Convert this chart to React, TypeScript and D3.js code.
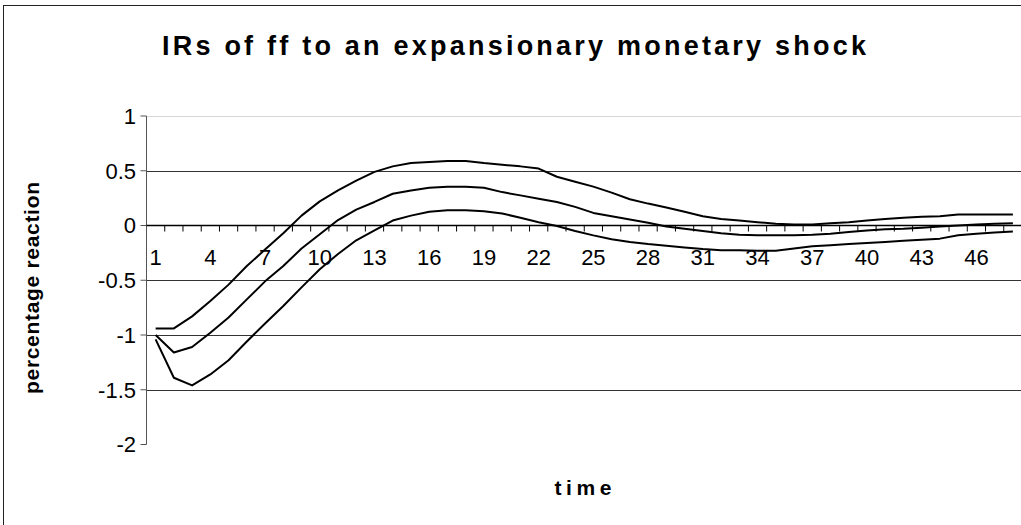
import { useMemo } from 'react';
import * as d3 from 'd3';

const periods = d3.range(1, 49);
const upper = [-0.94, -0.94, -0.83, -0.69, -0.54, -0.37, -0.22, -0.07, 0.09, 0.22, 0.32, 0.41, 0.49, 0.54, 0.57, 0.58, 0.59, 0.59, 0.57, 0.555, 0.54, 0.52, 0.445, 0.4, 0.355, 0.3, 0.24, 0.2, 0.165, 0.125, 0.085, 0.06, 0.045, 0.03, 0.015, 0.01, 0.01, 0.02, 0.03, 0.045, 0.06, 0.07, 0.08, 0.085, 0.1, 0.1, 0.1, 0.1];
const irf = [-1.0, -1.16, -1.11, -0.98, -0.84, -0.675, -0.51, -0.37, -0.21, -0.08, 0.05, 0.145, 0.215, 0.29, 0.32, 0.345, 0.355, 0.355, 0.345, 0.305, 0.275, 0.245, 0.215, 0.17, 0.115, 0.085, 0.055, 0.025, -0.01, -0.03, -0.05, -0.07, -0.085, -0.09, -0.09, -0.09, -0.085, -0.075, -0.06, -0.045, -0.035, -0.03, -0.02, -0.01, 0.0, 0.01, 0.015, 0.02];
const lower = [-1.04, -1.39, -1.46, -1.36, -1.23, -1.06, -0.895, -0.735, -0.565, -0.4, -0.26, -0.135, -0.045, 0.045, 0.09, 0.125, 0.14, 0.14, 0.13, 0.11, 0.07, 0.03, -0.005, -0.05, -0.09, -0.125, -0.15, -0.17, -0.185, -0.2, -0.215, -0.225, -0.225, -0.23, -0.23, -0.21, -0.19, -0.18, -0.17, -0.16, -0.15, -0.14, -0.13, -0.12, -0.09, -0.075, -0.065, -0.055];
const yTicks = [1, 0.5, 0, -0.5, -1, -1.5, -2];
const xLabels = periods.filter(p => (p - 1) % 3 === 0);

const W = 1021;
const H = 525;
const PLOT = { left: 146.5, right: 1022, top: 116, bottom: 444.5 };
const FONT = 'Liberation Sans, Arial, sans-serif';

export default function App() {
  const x = useMemo(() => d3.scaleBand<number>().domain(periods).range([PLOT.left, PLOT.right]).padding(0), []);
  const y = useMemo(() => d3.scaleLinear().domain([-2, 1]).range([PLOT.bottom, PLOT.top]), []);
  const cx = (p: number) => x(p)! + x.bandwidth() / 2;
  const line = d3.line<number>().x((_, i) => cx(periods[i])).y(d => y(d));
  const y0 = y(0);

  return (
    <svg width={W} height={H} style={{ position: 'fixed', left: 0, top: 0, background: '#fff' }}>
      <rect x={3.5} y={5.5} width={1100} height={700} fill="#fff" stroke="#222" strokeWidth={1} />

      <text x={514} y={55} textAnchor="middle" fontFamily={FONT} fontWeight="bold" fontSize={27}
        textLength={704} lengthAdjust="spacing">IRs of ff to an expansionary monetary shock</text>

      {/* grid */}
      {yTicks.filter(t => t !== 0 && t !== -2).map(t => (
        <line key={t} x1={PLOT.left} x2={W} y1={Math.round(y(t)) + 0.5} y2={Math.round(y(t)) + 0.5}
          stroke={t === 1 ? '#d8d8d8' : '#333'} strokeWidth={1} />
      ))}

      {/* y axis */}
      <line x1={PLOT.left} x2={PLOT.left} y1={y(1)} y2={y(-2)} stroke="#555" strokeWidth={1} />
      {yTicks.map(t => (
        <g key={t}>
          <line x1={PLOT.left - 6} x2={PLOT.left} y1={y(t)} y2={y(t)} stroke="#555" />
          <text x={136} y={y(t)} dy="0.36em" textAnchor="end" fontFamily={FONT} fontSize={22}>{t}</text>
        </g>
      ))}

      {/* x axis at zero */}
      <line x1={PLOT.left} x2={W} y1={y0} y2={y0} stroke="#000" strokeWidth={1.5} />
      {periods.map(p => (
        <line key={p} x1={x(p)! + x.bandwidth()} x2={x(p)! + x.bandwidth()} y1={y0} y2={y0 + 6} stroke="#000" />
      ))}
      {xLabels.map(p => (
        <text key={p} x={cx(p)} y={265} textAnchor="middle" fontFamily={FONT} fontSize={22}>{p}</text>
      ))}

      {/* series */}
      {[upper, irf, lower].map((s, i) => (
        <path key={i} d={line(s)!} fill="none" stroke="#000" strokeWidth={2} strokeLinejoin="round" />
      ))}

      <text transform={`translate(39,${288}) rotate(-90)`} textAnchor="middle" fontFamily={FONT} fontWeight="bold"
        fontSize={21} textLength={212} lengthAdjust="spacing">percentage reaction</text>
      <text x={583} y={495} textAnchor="middle" fontFamily={FONT} fontWeight="bold" fontSize={21}
        textLength={57} lengthAdjust="spacing">time</text>
    </svg>
  );
}
